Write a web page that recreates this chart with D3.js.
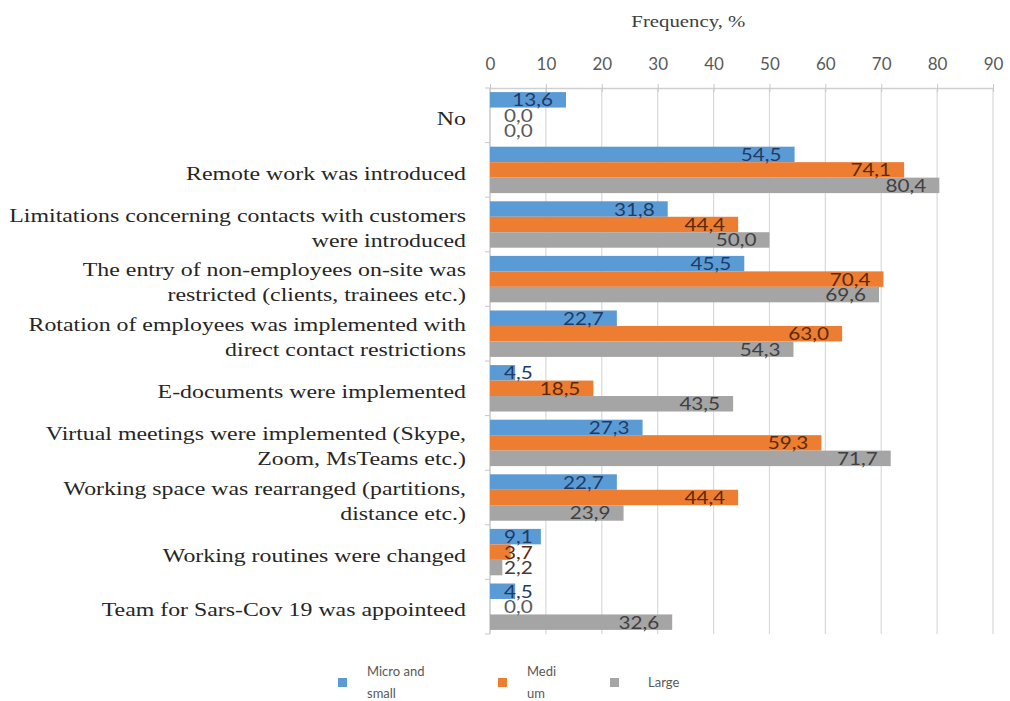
<!DOCTYPE html>
<html><head><meta charset="utf-8">
<script src="https://cdn.jsdelivr.net/npm/d3@7"></script>
<style>body{margin:0;background:#fff}svg{display:block}</style>
</head><body>
<svg id="c" width="1010" height="701"></svg>
<script>
const categories = ["No","Remote work was introduced","Limitations concerning contacts with customers were introduced","The entry of non-employees on-site was restricted (clients, trainees etc.)","Rotation of employees was implemented with direct contact restrictions","E-documents were implemented","Virtual meetings were implemented (Skype, Zoom, MsTeams etc.)","Working space was rearranged (partitions, distance etc.)","Working routines were changed","Team for Sars-Cov 19 was appointeed"];
const categoryLines = [["No"],["Remote work was introduced"],["Limitations concerning contacts with customers","were introduced"],["The entry of non-employees on-site was","restricted (clients, trainees etc.)"],["Rotation of employees was implemented with","direct contact restrictions"],["E-documents were implemented"],["Virtual meetings were implemented (Skype,","Zoom, MsTeams etc.)"],["Working space was rearranged (partitions,","distance etc.)"],["Working routines were changed"],["Team for Sars-Cov 19 was appointeed"]];
const seriesNames = ["Micro and small","Medium","Large"];
const legendLines = [["Micro and","small"],["Medi","um"],["Large"]];
const microSmall = [13.6,54.5,31.8,45.5,22.7,4.5,27.3,22.7,9.1,4.5];
const medium = [0.0,74.1,44.4,70.4,63.0,18.5,59.3,44.4,3.7,0.0];
const large = [0.0,80.4,50.0,69.6,54.3,43.5,71.7,23.9,2.2,32.6];
const xTicks = [0,10,20,30,40,50,60,70,80,90];
const axisTitle = "Frequency, %";

(function(){
const colors = ["#5B9BD5","#ED7D31","#A5A5A5"];
const labelColors = ["#1F3B66","#5A2A0A","#404040"];
const values = [microSmall, medium, large];

const svg = d3.select("#c");
const pL = 490, pR = 993, pT = 88, pB = 634;
const x = d3.scaleLinear().domain([0,90]).range([pL,pR]);
const pi = 0.15;
const y = d3.scaleBand().domain(categories).range([pT,pB]).paddingInner(pi).paddingOuter(pi/2);
const y1 = d3.scaleBand().domain(seriesNames).range([0,y.bandwidth()]);
const fmt = v => d3.format(".1f")(v).replace(".", ",");

// gridlines
svg.append("g").selectAll("line").data(xTicks).join("line")
  .attr("x1", d=>x(d)).attr("x2", d=>x(d)).attr("y1", pT).attr("y2", pB)
  .attr("stroke", "#D9D9D9").attr("stroke-width", 1.2);

// top axis
const xAxis = d3.axisTop(x).tickValues(xTicks).tickSize(0).tickPadding(18);
const gx = svg.append("g").attr("transform", `translate(0,${pT})`).call(xAxis);
gx.select(".domain").attr("stroke", "#D0D0D0").attr("stroke-width", 1.5);
gx.selectAll(".tick text").attr("font-family","Lato, 'Open Sans', sans-serif").attr("font-size", 17).attr("fill","#595959");
gx.selectAll(".tick").append("line").attr("y1",-4).attr("y2",4).attr("stroke","#C8C8C8");

// title
svg.append("text").attr("x", x(35.5)).attr("y", 27).attr("text-anchor","middle")
  .attr("font-family","'Liberation Serif', serif").attr("font-size", 16).attr("fill","#404040")
  .attr("transform-origin", `${x(35.5)} 27`).attr("transform","scale(1.3,1)")
  .text(axisTitle);

// left axis line & ticks
svg.append("line").attr("x1", pL).attr("x2", pL).attr("y1", pT).attr("y2", pB).attr("stroke","#D0D0D0").attr("stroke-width",1.5);
const step = y.step();
const bounds = d3.range(categories.length + 1).map(i => i === categories.length ? pB : y(categories[i]) - step*pi/2);
svg.append("g").selectAll("line").data(bounds).join("line")
  .attr("x1", pL-5).attr("x2", pL).attr("y1", d=>d).attr("y2", d=>d).attr("stroke","#C8C8C8");

// bars
const rows = categories.map((c,i) => ({c, vals: values.map((s,k)=>({k, v: s[i], name: seriesNames[k]}))}));
const g = svg.append("g").selectAll("g").data(rows).join("g").attr("transform", d=>`translate(0,${y(d.c)})`);
g.selectAll("rect").data(d=>d.vals).join("rect")
  .attr("x", x(0)).attr("y", d=>y1(d.name)).attr("width", d=>x(d.v)-x(0)).attr("height", y1.bandwidth())
  .attr("fill", d=>colors[d.k]);
g.selectAll("text").data(d=>d.vals).join("text")
  .attr("y", d=>y1(d.name) + y1.bandwidth()/2).attr("dy","0.36em")
  .attr("font-family","Lato, 'Open Sans', sans-serif").attr("font-size", 18)
  .attr("fill", d=> d.v === 0 ? "#595959" : labelColors[d.k])
  .text(d=>fmt(d.v))
  .each(function(d){
    const w = this.getComputedTextLength();
    const sx = 1.15;
    const startX = Math.max(x(d.v) - 13 - w*sx, x(0) + 14);
    d3.select(this).attr("x", startX).attr("transform-origin", `${startX} 0`).attr("transform", `scale(${sx},1)`);
  });

// category labels
const lab = svg.append("g").selectAll("text").data(categories).join("text")
  .attr("font-family","'Liberation Serif', 'Times New Roman', serif").attr("font-size", 19).attr("fill","#262626")
  .attr("text-anchor","end")
  .attr("transform-origin", d=>`466 ${y(d)+y.bandwidth()/2}`).attr("transform","scale(1.255,1)");
lab.each(function(d,i){
  const lines = categoryLines[i];
  const cy = y(d) + y.bandwidth()/2 + 3;
  const lh = 25;
  d3.select(this).selectAll("tspan").data(lines).join("tspan")
    .attr("x", 466).attr("y", (l,j)=> cy + (j - (lines.length-1)/2)*lh).attr("dy","0.35em").text(l=>l);
});

// legend
const legX = [338, 498, 610];
const leg = svg.append("g").selectAll("g").data(seriesNames).join("g").attr("transform",(d,i)=>`translate(${legX[i]},682)`);
leg.append("rect").attr("x",0).attr("y",-4).attr("width",9).attr("height",9).attr("fill",(d,i)=>colors[i]);
leg.append("text").attr("font-family","Lato, 'Open Sans', sans-serif").attr("font-size",13).attr("fill","#595959")
  .each(function(d,i){
    const lines = legendLines[i];
    d3.select(this).selectAll("tspan").data(lines).join("tspan")
      .attr("x", i===2 ? 38 : 29).attr("y",(l,j)=> (j-(lines.length-1)/2)*22).attr("dy","0.35em").text(l=>l);
  });
})();
</script>
</body></html>
